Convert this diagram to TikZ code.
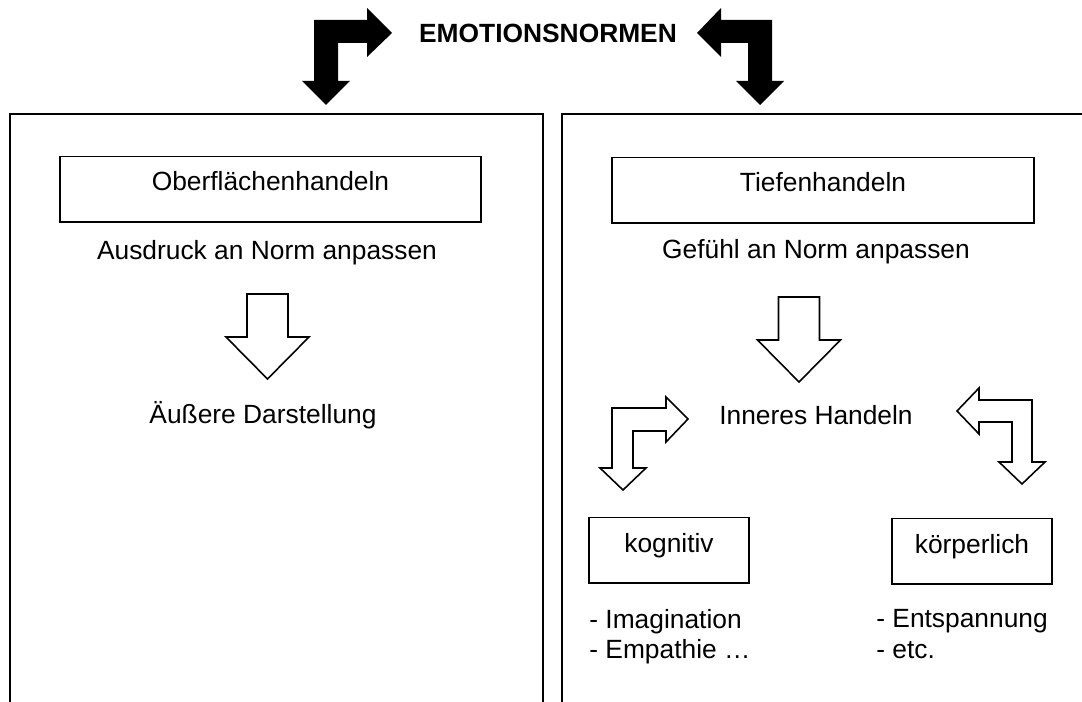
\documentclass[tikz,border=0pt]{standalone}
\usepackage{fontspec}
\setmainfont{Liberation Sans}

\tikzset{
  panel/.style={line width=1.5pt},
  namebox/.style={draw, line width=0.9pt, inner xsep=0pt, inner ysep=0pt,
    text height=0.69cm, text depth=0.62cm, anchor=base,
    font=\fontsize{15}{18}\selectfont},
  txt/.style={inner sep=0pt, anchor=base, font=\fontsize{15}{18}\selectfont},
  hollow/.style={draw, fill=white, line width=0.9pt, line join=miter},
  blockarrow/.style={fill=black}
}

\begin{document}
\begin{tikzpicture}[x=0.02cm, y=-0.02cm]
    \useasboundingbox (0,0) rectangle (1082,702);
    \clip (0,0) rectangle (1082,702);

    % the two panels, open at the bottom
    \draw[panel] (10,760) -- (10,114) -- (543,114) -- (543,760);
    \draw[panel] (562,760) -- (562,114) -- (1110,114) -- (1110,760);

    % title with the black arrows
    \node[txt, font=\fontsize{15}{18}\selectfont\bfseries] (norm) at (548,43) {EMOTIONSNORMEN};
    \fill[blockarrow] (392,33) -- (367,8) -- (367,20) -- (314,20) -- (314,81) -- (302,81)
        -- (326,105) -- (350,81) -- (338,81) -- (338,43) -- (367,43) -- (367,57) -- cycle;
    \fill[blockarrow] (697,33) -- (721,8) -- (721,20) -- (772,20) -- (772,81) -- (784,81)
        -- (760,105) -- (736,81) -- (748,81) -- (748,43) -- (721,43) -- (721,57) -- cycle;

    % left panel
    \node[namebox, minimum width=8.42cm] (oberfl) at (270.5,191) {Oberflächenhandeln};
    \node[txt] (ausdruck) at (267,260) {Ausdruck an Norm anpassen};
    \draw[hollow] (247,294) -- (288,294) -- (288,337) -- (309,337) -- (267.5,379)
        -- (226,337) -- (247,337) -- cycle;
    \node[txt] (aeussere) at (263,423) {Äußere Darstellung};

    % right panel
    \node[namebox, minimum width=8.44cm] (tiefen) at (823,192) {Tiefenhandeln};
    \node[txt] (gefuehl) at (816,259) {Gefühl an Norm anpassen};
    \begin{scope}[xshift=531.5*0.02cm, yshift=-3*0.02cm]
        \draw[hollow] (247,294) -- (288,294) -- (288,337) -- (309,337) -- (267.5,379)
            -- (226,337) -- (247,337) -- cycle;
    \end{scope}
    \node[txt] (inneres) at (816,425) {Inneres Handeln};

    % elbow arrows
    \draw[hollow] (688,419) -- (666,397) -- (666,408) -- (612,408) -- (612,468) -- (600,468)
        -- (623,490) -- (646,468) -- (633,468) -- (633,431) -- (666,431) -- (666,442) -- cycle;
    \draw[hollow] (957,411) -- (979,388) -- (979,400) -- (1032,400) -- (1032,462) -- (1045,462)
        -- (1022,484) -- (999,462) -- (1012,462) -- (1012,422) -- (979,422) -- (979,434) -- cycle;

    \node[namebox, minimum width=3.2cm] (kogn) at (669,552) {kognitiv};
    \node[namebox, minimum width=3.2cm] (koerp) at (972,553) {körperlich};

    \node[txt, anchor=base west] (imag) at (589,628) {- Imagination};
    \node[txt, anchor=base west] (empa) at (589,658) {- Empathie …};
    \node[txt, anchor=base west] (entsp) at (876,627) {- Entspannung};
    \node[txt, anchor=base west] (etc) at (876,658) {- etc.};
\end{tikzpicture}
\end{document}
